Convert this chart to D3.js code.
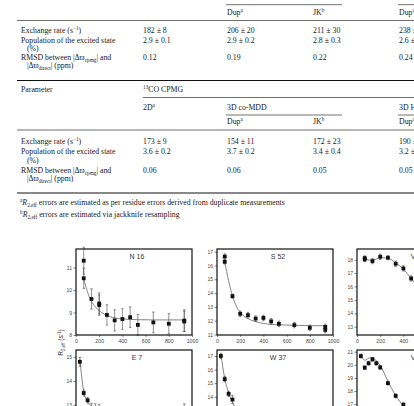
<!DOCTYPE html>
<html><head><meta charset="utf-8">
<script src="https://cdn.jsdelivr.net/npm/d3@7"></script>
<style>body{margin:0;background:#fff}svg{display:block}</style>
</head><body><svg id="c" width="414" height="406"></svg>
<script>
// ---------------- TABLE DATA ----------------
const rowLabels = [
  ["Exchange rate (s^{−1})"],
  ["Population of the excited state", "(%)"],
  ["RMSD between |Δϖ_{cpmg}| and", "|Δϖ_{direct}| (ppm)"]
];
const topHeaders = ["Dup^{a}", "JK^{b}", "Dup^{a}"];
const block1Values = [
  ["182 ± 8", "2.9 ± 0.1", "0.12"],
  ["206 ± 20", "2.9 ± 0.2", "0.19"],
  ["211 ± 30", "2.8 ± 0.3", "0.22"],
  ["238 ± 25", "2.6 ± 0.3", "0.24"]
];
const paramHeader = ["Parameter", "^{13}CO CPMG"];
const methodHeaders = ["2D^{a}", "3D co-MDD", "3D HNCO"];
const subHeaders = ["Dup^{a}", "JK^{b}", "Dup^{a}"];
const block2Values = [
  ["173 ± 9", "3.6 ± 0.2", "0.06"],
  ["154 ± 11", "3.7 ± 0.2", "0.06"],
  ["172 ± 23", "3.4 ± 0.4", "0.05"],
  ["190 ± 20", "3.2 ± 0.3", "0.05"]
];
const footnotes = [
  "^{a}*{R}_{2,eff} errors are estimated as per residue errors derived from duplicate measurements",
  "^{b}*{R}_{2,eff} errors are estimated via jackknife resampling"
];

// ---------------- CHART DATA ----------------
const xTicks = [0, 200, 400, 600, 800, 1000];
const fitNuRow1 = [66.7, 100, 133.3, 166.7, 200, 266.7, 333.3, 400, 466.7, 533.3, 666.7, 800, 933.3];
const fitNuRow2 = [33.3, 66.7, 100, 133.3, 166.7, 200, 266.7, 333.3, 400, 466.7, 533.3, 666.7, 800, 933.3];

const nuN16  = [66.7, 66.7, 133.3, 200, 200, 266.7, 333.3, 400, 466.7, 533.3, 666.7, 800, 933.3, 933.3];
const r2N16  = [11.3, 10.52, 9.6, 9.4, 9.33, 8.89, 8.65, 8.71, 8.79, 8.45, 8.56, 8.5, 8.64, 8.6];
const errN16 = [0.6, 0.45, 0.45, 0.47, 0.45, 0.45, 0.47, 0.46, 0.46, 0.46, 0.46, 0.45, 0.48, 0.45];
const fitN16 = [10.5, 9.9, 9.5, 9.25, 9.08, 8.87, 8.76, 8.71, 8.69, 8.68, 8.67, 8.67, 8.67];

const nuS52  = [66.7, 66.7, 133.3, 200, 266.7, 333.3, 400, 466.7, 533.3, 666.7, 800, 933.3, 933.3];
const r2S52  = [16.65, 16.27, 13.78, 12.5, 12.4, 12.15, 12.2, 11.95, 11.77, 11.68, 11.48, 11.55, 11.33];
const errS52 = [0.2, 0.15, 0.15, 0.2, 0.2, 0.2, 0.2, 0.2, 0.2, 0.2, 0.2, 0.2, 0.2];
const fitS52 = [16.25, 14.9, 13.8, 13.05, 12.6, 12.15, 11.93, 11.8, 11.73, 11.7, 11.66, 11.64, 11.63];

const nuV1  = [66.7, 66.7, 133.3, 200, 266.7, 333.3, 400, 466.7, 533.3, 666.7, 800, 933.3];
const r2V1  = [18.12, 18.02, 17.9, 18.22, 18.15, 17.7, 17.35, 16.6, 15.9, 14.7, 13.9, 13.5];
const errV1 = [0.17, 0.17, 0.2, 0.2, 0.15, 0.2, 0.2, 0.2, 0.2, 0.2, 0.2, 0.2];
const fitV1 = [18.07, 17.98, 17.95, 18.05, 18.15, 18.12, 17.75, 17.3, 16.6, 15.9, 14.6, 13.8, 13.4];

const nuE7  = [33.3, 66.7, 100, 133.3, 166.7, 200, 266.7, 333.3, 400, 466.7, 533.3, 666.7, 800, 933.3];
const r2E7  = [14.79, 13.5, 13.2, 12.87, 12.85, 12.83, 12.7, 12.65, 12.6, 12.6, 12.55, 12.6, 12.6, 12.85];
const errE7 = [0.18, 0.12, 0.12, 0.2, 0.2, 0.2, 0.2, 0.2, 0.2, 0.2, 0.2, 0.2, 0.2, 0.2];
const fitE7 = [14.9, 13.55, 13.15, 12.95, 12.85, 12.78, 12.72, 12.7, 12.68, 12.68, 12.68, 12.68, 12.68, 12.68];

const nuW37  = [33.3, 66.7, 100, 133.3, 166.7, 200, 266.7, 333.3, 400, 466.7, 533.3, 666.7, 800, 933.3];
const r2W37  = [17.0, 15.3, 14.22, 13.8, 13.0, 12.6, 12.2, 12.0, 11.9, 11.9, 11.85, 11.9, 11.85, 11.9];
const errW37 = [0.2, 0.2, 0.2, 0.3, 0.2, 0.2, 0.2, 0.2, 0.2, 0.2, 0.2, 0.2, 0.2, 0.2];
const fitW37 = [17.15, 15.35, 14.3, 13.6, 13.1, 12.75, 12.35, 12.1, 12.0, 11.95, 11.9, 11.9, 11.9, 11.9];

const nuV2  = [33.3, 66.7, 100, 133.3, 166.7, 200, 266.7, 333.3, 400, 466.7, 533.3];
const r2V2  = [20.67, 19.78, 20.12, 20.42, 20.12, 19.8, 18.6, 17.63, 16.95, 16.3, 15.9];
const errV2 = [0.15, 0.15, 0.15, 0.15, 0.15, 0.15, 0.15, 0.15, 0.15, 0.15, 0.15];
const fitV2 = [20.72, 20.35, 20.5, 20.55, 20.3, 19.95, 18.75, 17.65, 16.85, 16.3, 15.9, 15.4, 15.2, 15.1];

const panelNames = ["N 16", "S 52", "V 28", "E 7", "W 37", "V 45"];
const yTickSets = [[8, 9, 10, 11], [11, 12, 13, 14, 15, 16, 17], [13, 14, 15, 16, 17, 18],
                   [13, 14, 15], [14, 15, 16, 17], [17, 18, 19, 20, 21]];
const yDomains = [[8, 11.82], [10.96, 17.2], [12.38, 18.8], [11.72, 15.28], [11.12, 17.44], [14.56, 21.13]];

// ---------------- DRAW ----------------
const svg = d3.select("#c");
svg.append("rect").attr("width", 414).attr("height", 406).attr("fill", "#fff");

function rich(sel, str, fs) {
  const parts = str.split(/(\^\{[^}]*\}|_\{[^}]*\}|\*\{[^}]*\})/).filter(s => s.length);
  let shift = 0;
  parts.forEach(p => {
    let target = 0, size = fs, txt = p, italic = false;
    if (p.startsWith("^{")) { target = -fs * 0.38; size = fs * 0.68; txt = p.slice(2, -1); }
    else if (p.startsWith("_{")) { target = fs * 0.25; size = fs * 0.68; txt = p.slice(2, -1); }
    else if (p.startsWith("*{")) { italic = true; txt = p.slice(2, -1); }
    const t = sel.append("tspan").attr("dy", target - shift).attr("font-size", size).text(txt);
    if (italic) t.attr("font-style", "italic");
    shift = target;
  });
}

const FS = 7.8;
const tbl = svg.append("g").attr("font-family", "'Liberation Serif', 'DejaVu Serif', serif")
  .attr("fill", "#1a1a1a").attr("font-size", FS);
function txt(x, yc, s) {
  const t = tbl.append("text").attr("x", x).attr("y", yc + 2.7);
  rich(t, s, FS);
}
function hline(y, x1, x2, w) {
  tbl.append("line").attr("x1", x1).attr("x2", x2).attr("y1", y).attr("y2", y)
    .attr("stroke", "#111").attr("stroke-width", w || 0.6);
}
const colX = [143, 227, 313, 399];
const labX = 21, indX = 27, ruleX = 17;

function block(hdrY, lineY, rowYs, values, headers) {
  headers.forEach((h, i) => txt(colX[i + 1], hdrY, h));
  hline(lineY, ruleX, 414);
  rowLabels.forEach((lab, r) => {
    lab.forEach((l, k) => txt(k ? indX : labX, rowYs[r] + k * 8.3, l));
  });
  values.forEach((col, c) => col.forEach((v, r) => txt(colX[c], rowYs[r], v)));
}
hline(4.7, 226, 342); hline(4.7, 398, 414);
block(12.2, 20.5, [29.8, 39.8, 57.3], block1Values, topHeaders);
hline(80.5, ruleX, 414, 1);
txt(labX, 89, paramHeader[0]); txt(colX[0], 89, paramHeader[1]);
hline(97.5, 143, 414);
const methodX = [colX[0], colX[1], colX[3]];
methodHeaders.forEach((h, i) => txt(methodX[i], 107, h));
hline(115, 226, 342); hline(115, 398, 414);
block(121.5, 130, [141.5, 151.5, 170], block2Values, subHeaders);
hline(193, ruleX, 414, 1);
footnotes.forEach((f, i) => txt(labX - 1, 202.5 + i * 12, f));

// ---- panels
const panelData = [
  {nu: nuN16, r2: r2N16, err: errN16, fnu: fitNuRow1, fit: fitN16},
  {nu: nuS52, r2: r2S52, err: errS52, fnu: fitNuRow1, fit: fitS52},
  {nu: nuV1, r2: r2V1, err: errV1, fnu: fitNuRow1, fit: fitV1},
  {nu: nuE7, r2: r2E7, err: errE7, fnu: fitNuRow2, fit: fitE7},
  {nu: nuW37, r2: r2W37, err: errW37, fnu: fitNuRow2, fit: fitW37},
  {nu: nuV2, r2: r2V2, err: errV2, fnu: fitNuRow2, fit: fitV2}
];
const colLeft = [76, 217, 357], rowTop = [249, 350], PW = 116, PH = 86;

panelData.forEach((d, i) => {
  const x0 = colLeft[i % 3], y0 = rowTop[Math.floor(i / 3)];
  const x = d3.scaleLinear().domain([0, 1000]).range([x0, x0 + PW]);
  const y = d3.scaleLinear().domain(yDomains[i]).range([y0 + PH, y0]);
  const g = svg.append("g");
  const ya = g.append("g").attr("transform", `translate(${x0},0)`)
    .call(d3.axisLeft(y).tickValues(yTickSets[i]).tickSize(2.5).tickPadding(1.5).tickFormat(d3.format("d")));
  ya.select(".domain").remove();
  ya.selectAll("line").attr("stroke", "#555").attr("stroke-width", 0.7);
  ya.selectAll("text").attr("font-family", "'Liberation Sans', Arial, sans-serif").attr("font-size", 5).attr("fill", "#444");
  if (i < 3) {
    const xa = g.append("g").attr("transform", `translate(0,${y0 + PH})`)
      .call(d3.axisBottom(x).tickValues(xTicks).tickSize(2).tickPadding(2.5).tickFormat(d3.format("d")));
    xa.select(".domain").remove();
    xa.selectAll("line").attr("stroke", "#555").attr("stroke-width", 0.7);
    xa.selectAll("text").attr("font-family", "'Liberation Sans', Arial, sans-serif").attr("font-size", 5.2).attr("fill", "#444");
  }
  const line = d3.line().x((v, k) => x(d.fnu[k])).y(v => y(v)).curve(d3.curveMonotoneX);
  g.append("path").attr("d", line(d.fit)).attr("fill", "none").attr("stroke", "#777").attr("stroke-width", 0.9);
  d.nu.forEach((n, k) => {
    const cx = x(n);
    const top = y(d.r2[k] + d.err[k]), bot = y(d.r2[k] - d.err[k]);
    g.append("line").attr("x1", cx).attr("x2", cx).attr("y1", top).attr("y2", bot).attr("stroke", "#444").attr("stroke-width", 0.6);
    [top, bot].forEach(yy => g.append("line").attr("x1", cx - 1.2).attr("x2", cx + 1.2).attr("y1", yy).attr("y2", yy)
      .attr("stroke", "#444").attr("stroke-width", 0.6));
  });
  g.selectAll("rect.pt").data(d.r2).join("rect").attr("class", "pt")
    .attr("x", (v, k) => x(d.nu[k]) - 1.9).attr("y", v => y(v) - 1.9)
    .attr("width", 3.8).attr("height", 3.8).attr("fill", "#111");
  g.append("rect").attr("x", x0).attr("y", y0).attr("width", PW).attr("height", PH)
    .attr("fill", "none").attr("stroke", "#111").attr("stroke-width", 1.2);
  g.append("text").attr("x", x0 + PW / 2 + 3).attr("y", y0 + 10.2).attr("text-anchor", "middle")
    .attr("font-family", "'Liberation Sans', Arial, sans-serif").attr("font-size", 7).attr("fill", "#333")
    .text(panelNames[i]);
});

const yt = svg.append("text").attr("transform", "translate(63,342.5) rotate(-90)").attr("text-anchor", "middle")
  .attr("font-family", "'Liberation Sans', Arial, sans-serif").attr("fill", "#333");
rich(yt, "R_{2,eff} (s^{-1})", 6.5);
</script></body></html>
